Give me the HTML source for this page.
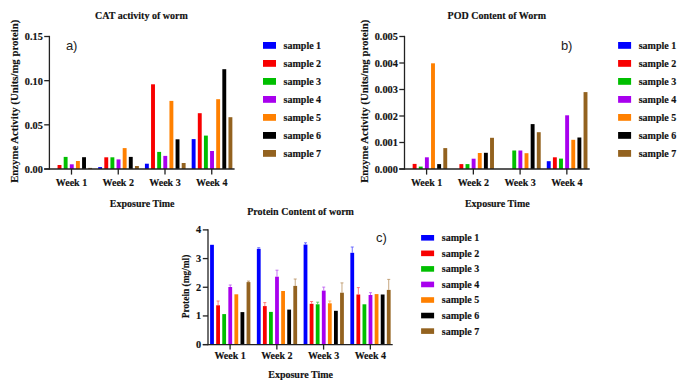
<!DOCTYPE html>
<html><head><meta charset="utf-8"><style>
html,body{margin:0;padding:0;background:#fff;}
body{width:685px;height:388px;overflow:hidden;}
svg{display:block;}
.ser{font-family:"Liberation Serif",serif;font-weight:bold;fill:#111;stroke:#111;stroke-width:0.15px;}
.san{font-family:"Liberation Sans",sans-serif;fill:#222;}
</style></head><body>
<svg width="685" height="388" viewBox="0 0 685 388">
<rect width="685" height="388" fill="#fff"/>
<rect x="57.56" y="165.00" width="3.90" height="4.00" fill="#f80000"/>
<rect x="63.69" y="156.90" width="3.90" height="12.10" fill="#00bf00"/>
<rect x="69.82" y="164.30" width="3.90" height="4.70" fill="#a800ee"/>
<rect x="75.95" y="161.00" width="3.90" height="8.00" fill="#ff8000"/>
<rect x="82.08" y="157.20" width="3.90" height="11.80" fill="#000000"/>
<rect x="88.21" y="167.90" width="3.90" height="1.10" fill="#93621f"/>
<rect x="98.18" y="167.10" width="3.90" height="1.90" fill="#0000ff"/>
<rect x="104.31" y="157.30" width="3.90" height="11.70" fill="#f80000"/>
<rect x="110.44" y="157.30" width="3.90" height="11.70" fill="#00bf00"/>
<rect x="116.57" y="159.40" width="3.90" height="9.60" fill="#a800ee"/>
<rect x="122.70" y="148.10" width="3.90" height="20.90" fill="#ff8000"/>
<rect x="128.83" y="156.90" width="3.90" height="12.10" fill="#000000"/>
<rect x="134.96" y="166.00" width="3.90" height="3.00" fill="#93621f"/>
<rect x="144.93" y="163.70" width="3.90" height="5.30" fill="#0000ff"/>
<rect x="151.06" y="84.30" width="3.90" height="84.70" fill="#f80000"/>
<rect x="157.19" y="151.90" width="3.90" height="17.10" fill="#00bf00"/>
<rect x="163.32" y="155.90" width="3.90" height="13.10" fill="#a800ee"/>
<rect x="169.45" y="100.90" width="3.90" height="68.10" fill="#ff8000"/>
<rect x="175.58" y="139.30" width="3.90" height="29.70" fill="#000000"/>
<rect x="181.71" y="163.00" width="3.90" height="6.00" fill="#93621f"/>
<rect x="191.68" y="139.10" width="3.90" height="29.90" fill="#0000ff"/>
<rect x="197.81" y="113.20" width="3.90" height="55.80" fill="#f80000"/>
<rect x="203.94" y="135.60" width="3.90" height="33.40" fill="#00bf00"/>
<rect x="210.07" y="151.00" width="3.90" height="18.00" fill="#a800ee"/>
<rect x="216.20" y="99.20" width="3.90" height="69.80" fill="#ff8000"/>
<rect x="222.33" y="69.20" width="3.90" height="99.80" fill="#000000"/>
<rect x="228.46" y="117.20" width="3.90" height="51.80" fill="#93621f"/>
<line x1="49.40" y1="35.85" x2="49.40" y2="169.65" stroke="#222" stroke-width="1.3"/>
<line x1="44.20" y1="169.00" x2="234.60" y2="169.00" stroke="#222" stroke-width="1.3"/>
<line x1="44.20" y1="169.00" x2="49.40" y2="169.00" stroke="#222" stroke-width="1.3"/>
<text class="ser" x="42.80" y="172.90" font-size="10.3" text-anchor="end" >0.00</text>
<line x1="44.20" y1="124.83" x2="49.40" y2="124.83" stroke="#222" stroke-width="1.3"/>
<text class="ser" x="42.80" y="128.73" font-size="10.3" text-anchor="end" >0.05</text>
<line x1="44.20" y1="80.67" x2="49.40" y2="80.67" stroke="#222" stroke-width="1.3"/>
<text class="ser" x="42.80" y="84.57" font-size="10.3" text-anchor="end" >0.10</text>
<line x1="44.20" y1="36.50" x2="49.40" y2="36.50" stroke="#222" stroke-width="1.3"/>
<text class="ser" x="42.80" y="40.40" font-size="10.3" text-anchor="end" >0.15</text>
<line x1="71.50" y1="169.00" x2="71.50" y2="174.60" stroke="#222" stroke-width="1.3"/>
<text class="ser" x="71.50" y="186.00" font-size="10" text-anchor="middle" >Week 1</text>
<line x1="118.25" y1="169.00" x2="118.25" y2="174.60" stroke="#222" stroke-width="1.3"/>
<text class="ser" x="118.25" y="186.00" font-size="10" text-anchor="middle" >Week 2</text>
<line x1="165.00" y1="169.00" x2="165.00" y2="174.60" stroke="#222" stroke-width="1.3"/>
<text class="ser" x="165.00" y="186.00" font-size="10" text-anchor="middle" >Week 3</text>
<line x1="211.75" y1="169.00" x2="211.75" y2="174.60" stroke="#222" stroke-width="1.3"/>
<text class="ser" x="211.75" y="186.00" font-size="10" text-anchor="middle" >Week 4</text>
<text class="ser" x="142.20" y="207.20" font-size="10" text-anchor="middle" >Exposure Time</text>
<text class="ser" x="95.10" y="18.80" font-size="10" text-anchor="start" >CAT activity of worm</text>
<text class="ser" font-size="10.75" text-anchor="middle" transform="translate(17.60,101.30) rotate(-90)">Enzyme Activity (Units/mg protein)</text>
<text class="san" x="65.90" y="50.00" font-size="13" text-anchor="start" >a)</text>
<rect x="263.00" y="42.00" width="13.00" height="6.80" fill="#0000ff"/>
<text class="ser" x="283.60" y="49.00" font-size="10" text-anchor="start" >sample 1</text>
<rect x="263.00" y="60.00" width="13.00" height="6.80" fill="#f80000"/>
<text class="ser" x="283.60" y="67.00" font-size="10" text-anchor="start" >sample 2</text>
<rect x="263.00" y="78.00" width="13.00" height="6.80" fill="#00bf00"/>
<text class="ser" x="283.60" y="85.00" font-size="10" text-anchor="start" >sample 3</text>
<rect x="263.00" y="96.00" width="13.00" height="6.80" fill="#a800ee"/>
<text class="ser" x="283.60" y="103.00" font-size="10" text-anchor="start" >sample 4</text>
<rect x="263.00" y="114.00" width="13.00" height="6.80" fill="#ff8000"/>
<text class="ser" x="283.60" y="121.00" font-size="10" text-anchor="start" >sample 5</text>
<rect x="263.00" y="132.00" width="13.00" height="6.80" fill="#000000"/>
<text class="ser" x="283.60" y="139.00" font-size="10" text-anchor="start" >sample 6</text>
<rect x="263.00" y="150.00" width="13.00" height="6.80" fill="#93621f"/>
<text class="ser" x="283.60" y="157.00" font-size="10" text-anchor="start" >sample 7</text>
<rect x="412.66" y="163.90" width="3.90" height="5.10" fill="#f80000"/>
<rect x="418.79" y="166.60" width="3.90" height="2.40" fill="#00bf00"/>
<rect x="424.92" y="157.30" width="3.90" height="11.70" fill="#a800ee"/>
<rect x="431.05" y="63.30" width="3.90" height="105.70" fill="#ff8000"/>
<rect x="437.18" y="164.10" width="3.90" height="4.90" fill="#000000"/>
<rect x="443.31" y="148.10" width="3.90" height="20.90" fill="#93621f"/>
<rect x="459.41" y="164.10" width="3.90" height="4.90" fill="#f80000"/>
<rect x="465.54" y="164.10" width="3.90" height="4.90" fill="#00bf00"/>
<rect x="471.67" y="158.70" width="3.90" height="10.30" fill="#a800ee"/>
<rect x="477.80" y="153.00" width="3.90" height="16.00" fill="#ff8000"/>
<rect x="483.93" y="152.80" width="3.90" height="16.20" fill="#000000"/>
<rect x="490.06" y="137.80" width="3.90" height="31.20" fill="#93621f"/>
<rect x="512.29" y="150.50" width="3.90" height="18.50" fill="#00bf00"/>
<rect x="518.42" y="150.50" width="3.90" height="18.50" fill="#a800ee"/>
<rect x="524.55" y="153.20" width="3.90" height="15.80" fill="#ff8000"/>
<rect x="530.68" y="124.10" width="3.90" height="44.90" fill="#000000"/>
<rect x="536.81" y="132.20" width="3.90" height="36.80" fill="#93621f"/>
<rect x="546.78" y="161.20" width="3.90" height="7.80" fill="#0000ff"/>
<rect x="552.91" y="157.30" width="3.90" height="11.70" fill="#f80000"/>
<rect x="559.04" y="158.60" width="3.90" height="10.40" fill="#00bf00"/>
<rect x="565.17" y="115.30" width="3.90" height="53.70" fill="#a800ee"/>
<rect x="571.30" y="139.80" width="3.90" height="29.20" fill="#ff8000"/>
<rect x="577.43" y="137.50" width="3.90" height="31.50" fill="#000000"/>
<rect x="583.56" y="92.10" width="3.90" height="76.90" fill="#93621f"/>
<line x1="404.50" y1="35.85" x2="404.50" y2="169.65" stroke="#222" stroke-width="1.3"/>
<line x1="399.30" y1="169.00" x2="589.70" y2="169.00" stroke="#222" stroke-width="1.3"/>
<line x1="399.30" y1="169.00" x2="404.50" y2="169.00" stroke="#222" stroke-width="1.3"/>
<text class="ser" x="397.90" y="172.90" font-size="10.3" text-anchor="end" >0.000</text>
<line x1="399.30" y1="142.50" x2="404.50" y2="142.50" stroke="#222" stroke-width="1.3"/>
<text class="ser" x="397.90" y="146.40" font-size="10.3" text-anchor="end" >0.001</text>
<line x1="399.30" y1="116.00" x2="404.50" y2="116.00" stroke="#222" stroke-width="1.3"/>
<text class="ser" x="397.90" y="119.90" font-size="10.3" text-anchor="end" >0.002</text>
<line x1="399.30" y1="89.50" x2="404.50" y2="89.50" stroke="#222" stroke-width="1.3"/>
<text class="ser" x="397.90" y="93.40" font-size="10.3" text-anchor="end" >0.003</text>
<line x1="399.30" y1="63.00" x2="404.50" y2="63.00" stroke="#222" stroke-width="1.3"/>
<text class="ser" x="397.90" y="66.90" font-size="10.3" text-anchor="end" >0.004</text>
<line x1="399.30" y1="36.50" x2="404.50" y2="36.50" stroke="#222" stroke-width="1.3"/>
<text class="ser" x="397.90" y="40.40" font-size="10.3" text-anchor="end" >0.005</text>
<line x1="426.60" y1="169.00" x2="426.60" y2="174.60" stroke="#222" stroke-width="1.3"/>
<text class="ser" x="426.60" y="186.00" font-size="10" text-anchor="middle" >Week 1</text>
<line x1="473.35" y1="169.00" x2="473.35" y2="174.60" stroke="#222" stroke-width="1.3"/>
<text class="ser" x="473.35" y="186.00" font-size="10" text-anchor="middle" >Week 2</text>
<line x1="520.10" y1="169.00" x2="520.10" y2="174.60" stroke="#222" stroke-width="1.3"/>
<text class="ser" x="520.10" y="186.00" font-size="10" text-anchor="middle" >Week 3</text>
<line x1="566.85" y1="169.00" x2="566.85" y2="174.60" stroke="#222" stroke-width="1.3"/>
<text class="ser" x="566.85" y="186.00" font-size="10" text-anchor="middle" >Week 4</text>
<text class="ser" x="497.30" y="207.20" font-size="10" text-anchor="middle" >Exposure Time</text>
<text class="ser" x="447.60" y="18.80" font-size="10" text-anchor="start" >POD Content of Worm</text>
<text class="ser" font-size="10.75" text-anchor="middle" transform="translate(367.60,101.30) rotate(-90)">Enzyme Activity (Units/mg protein)</text>
<text class="san" x="560.90" y="50.00" font-size="13" text-anchor="start" >b)</text>
<rect x="618.10" y="42.00" width="13.00" height="6.80" fill="#0000ff"/>
<text class="ser" x="638.70" y="49.00" font-size="10" text-anchor="start" >sample 1</text>
<rect x="618.10" y="60.00" width="13.00" height="6.80" fill="#f80000"/>
<text class="ser" x="638.70" y="67.00" font-size="10" text-anchor="start" >sample 2</text>
<rect x="618.10" y="78.00" width="13.00" height="6.80" fill="#00bf00"/>
<text class="ser" x="638.70" y="85.00" font-size="10" text-anchor="start" >sample 3</text>
<rect x="618.10" y="96.00" width="13.00" height="6.80" fill="#a800ee"/>
<text class="ser" x="638.70" y="103.00" font-size="10" text-anchor="start" >sample 4</text>
<rect x="618.10" y="114.00" width="13.00" height="6.80" fill="#ff8000"/>
<text class="ser" x="638.70" y="121.00" font-size="10" text-anchor="start" >sample 5</text>
<rect x="618.10" y="132.00" width="13.00" height="6.80" fill="#000000"/>
<text class="ser" x="638.70" y="139.00" font-size="10" text-anchor="start" >sample 6</text>
<rect x="618.10" y="150.00" width="13.00" height="6.80" fill="#93621f"/>
<text class="ser" x="638.70" y="157.00" font-size="10" text-anchor="start" >sample 7</text>
<rect x="210.10" y="244.80" width="3.80" height="99.80" fill="#0000ff"/>
<rect x="216.18" y="305.30" width="3.80" height="39.30" fill="#f80000"/>
<line x1="218.08" y1="305.30" x2="218.08" y2="301.00" stroke="#ff6060" stroke-width="0.8"/>
<line x1="216.58" y1="301.00" x2="219.58" y2="301.00" stroke="#ff6060" stroke-width="0.8"/>
<rect x="222.26" y="314.10" width="3.80" height="30.50" fill="#00bf00"/>
<rect x="228.34" y="287.00" width="3.80" height="57.60" fill="#a800ee"/>
<line x1="230.24" y1="287.00" x2="230.24" y2="285.00" stroke="#b850f0" stroke-width="0.8"/>
<line x1="228.74" y1="285.00" x2="231.74" y2="285.00" stroke="#b850f0" stroke-width="0.8"/>
<rect x="234.42" y="294.30" width="3.80" height="50.30" fill="#ff8000"/>
<rect x="240.50" y="312.10" width="3.80" height="32.50" fill="#000000"/>
<rect x="246.58" y="282.10" width="3.80" height="62.50" fill="#93621f"/>
<line x1="248.48" y1="282.10" x2="248.48" y2="281.10" stroke="#b89060" stroke-width="0.8"/>
<line x1="246.98" y1="281.10" x2="249.98" y2="281.10" stroke="#b89060" stroke-width="0.8"/>
<rect x="256.85" y="248.80" width="3.80" height="95.80" fill="#0000ff"/>
<line x1="258.75" y1="248.80" x2="258.75" y2="247.70" stroke="#5050ff" stroke-width="0.8"/>
<line x1="257.25" y1="247.70" x2="260.25" y2="247.70" stroke="#5050ff" stroke-width="0.8"/>
<rect x="262.93" y="306.10" width="3.80" height="38.50" fill="#f80000"/>
<line x1="264.83" y1="306.10" x2="264.83" y2="302.60" stroke="#ff6060" stroke-width="0.8"/>
<line x1="263.33" y1="302.60" x2="266.33" y2="302.60" stroke="#ff6060" stroke-width="0.8"/>
<rect x="269.01" y="311.90" width="3.80" height="32.70" fill="#00bf00"/>
<rect x="275.09" y="276.70" width="3.80" height="67.90" fill="#a800ee"/>
<line x1="276.99" y1="276.70" x2="276.99" y2="270.20" stroke="#b850f0" stroke-width="0.8"/>
<line x1="275.49" y1="270.20" x2="278.49" y2="270.20" stroke="#b850f0" stroke-width="0.8"/>
<rect x="281.17" y="291.00" width="3.80" height="53.60" fill="#ff8000"/>
<rect x="287.25" y="309.60" width="3.80" height="35.00" fill="#000000"/>
<rect x="293.33" y="285.90" width="3.80" height="58.70" fill="#93621f"/>
<line x1="295.23" y1="285.90" x2="295.23" y2="279.00" stroke="#b89060" stroke-width="0.8"/>
<line x1="293.73" y1="279.00" x2="296.73" y2="279.00" stroke="#b89060" stroke-width="0.8"/>
<rect x="303.60" y="244.60" width="3.80" height="100.00" fill="#0000ff"/>
<line x1="305.50" y1="244.60" x2="305.50" y2="242.80" stroke="#5050ff" stroke-width="0.8"/>
<line x1="304.00" y1="242.80" x2="307.00" y2="242.80" stroke="#5050ff" stroke-width="0.8"/>
<rect x="309.68" y="303.80" width="3.80" height="40.80" fill="#f80000"/>
<line x1="311.58" y1="303.80" x2="311.58" y2="301.50" stroke="#ff6060" stroke-width="0.8"/>
<line x1="310.08" y1="301.50" x2="313.08" y2="301.50" stroke="#ff6060" stroke-width="0.8"/>
<rect x="315.76" y="304.30" width="3.80" height="40.30" fill="#00bf00"/>
<line x1="317.66" y1="304.30" x2="317.66" y2="302.20" stroke="#40c840" stroke-width="0.8"/>
<line x1="316.16" y1="302.20" x2="319.16" y2="302.20" stroke="#40c840" stroke-width="0.8"/>
<rect x="321.84" y="290.60" width="3.80" height="54.00" fill="#a800ee"/>
<line x1="323.74" y1="290.60" x2="323.74" y2="287.10" stroke="#b850f0" stroke-width="0.8"/>
<line x1="322.24" y1="287.10" x2="325.24" y2="287.10" stroke="#b850f0" stroke-width="0.8"/>
<rect x="327.92" y="303.30" width="3.80" height="41.30" fill="#ff8000"/>
<line x1="329.82" y1="303.30" x2="329.82" y2="301.00" stroke="#ffa850" stroke-width="0.8"/>
<line x1="328.32" y1="301.00" x2="331.32" y2="301.00" stroke="#ffa850" stroke-width="0.8"/>
<rect x="334.00" y="310.80" width="3.80" height="33.80" fill="#000000"/>
<rect x="340.08" y="292.70" width="3.80" height="51.90" fill="#93621f"/>
<line x1="341.98" y1="292.70" x2="341.98" y2="282.90" stroke="#b89060" stroke-width="0.8"/>
<line x1="340.48" y1="282.90" x2="343.48" y2="282.90" stroke="#b89060" stroke-width="0.8"/>
<rect x="350.35" y="252.80" width="3.80" height="91.80" fill="#0000ff"/>
<line x1="352.25" y1="252.80" x2="352.25" y2="247.00" stroke="#5050ff" stroke-width="0.8"/>
<line x1="350.75" y1="247.00" x2="353.75" y2="247.00" stroke="#5050ff" stroke-width="0.8"/>
<rect x="356.43" y="294.50" width="3.80" height="50.10" fill="#f80000"/>
<line x1="358.33" y1="294.50" x2="358.33" y2="287.60" stroke="#ff6060" stroke-width="0.8"/>
<line x1="356.83" y1="287.60" x2="359.83" y2="287.60" stroke="#ff6060" stroke-width="0.8"/>
<rect x="362.51" y="304.30" width="3.80" height="40.30" fill="#00bf00"/>
<rect x="368.59" y="295.00" width="3.80" height="49.60" fill="#a800ee"/>
<line x1="370.49" y1="295.00" x2="370.49" y2="292.70" stroke="#b850f0" stroke-width="0.8"/>
<line x1="368.99" y1="292.70" x2="371.99" y2="292.70" stroke="#b850f0" stroke-width="0.8"/>
<rect x="374.67" y="294.10" width="3.80" height="50.50" fill="#ff8000"/>
<rect x="380.75" y="294.50" width="3.80" height="50.10" fill="#000000"/>
<rect x="386.83" y="289.90" width="3.80" height="54.70" fill="#93621f"/>
<line x1="388.73" y1="289.90" x2="388.73" y2="279.40" stroke="#b89060" stroke-width="0.8"/>
<line x1="387.23" y1="279.40" x2="390.23" y2="279.40" stroke="#b89060" stroke-width="0.8"/>
<line x1="208.00" y1="229.25" x2="208.00" y2="345.25" stroke="#222" stroke-width="1.3"/>
<line x1="202.80" y1="344.60" x2="392.70" y2="344.60" stroke="#222" stroke-width="1.3"/>
<line x1="202.80" y1="344.60" x2="208.00" y2="344.60" stroke="#222" stroke-width="1.3"/>
<text class="ser" x="201.10" y="347.90" font-size="10.3" text-anchor="end" >0</text>
<line x1="202.80" y1="315.93" x2="208.00" y2="315.93" stroke="#222" stroke-width="1.3"/>
<text class="ser" x="201.10" y="319.23" font-size="10.3" text-anchor="end" >1</text>
<line x1="202.80" y1="287.25" x2="208.00" y2="287.25" stroke="#222" stroke-width="1.3"/>
<text class="ser" x="201.10" y="290.55" font-size="10.3" text-anchor="end" >2</text>
<line x1="202.80" y1="258.58" x2="208.00" y2="258.58" stroke="#222" stroke-width="1.3"/>
<text class="ser" x="201.10" y="261.88" font-size="10.3" text-anchor="end" >3</text>
<line x1="202.80" y1="229.90" x2="208.00" y2="229.90" stroke="#222" stroke-width="1.3"/>
<text class="ser" x="201.10" y="233.20" font-size="10.3" text-anchor="end" >4</text>
<line x1="230.10" y1="344.60" x2="230.10" y2="349.60" stroke="#222" stroke-width="1.3"/>
<text class="ser" x="230.10" y="359.30" font-size="10" text-anchor="middle" >Week 1</text>
<line x1="276.85" y1="344.60" x2="276.85" y2="349.60" stroke="#222" stroke-width="1.3"/>
<text class="ser" x="276.85" y="359.30" font-size="10" text-anchor="middle" >Week 2</text>
<line x1="323.60" y1="344.60" x2="323.60" y2="349.60" stroke="#222" stroke-width="1.3"/>
<text class="ser" x="323.60" y="359.30" font-size="10" text-anchor="middle" >Week 3</text>
<line x1="370.35" y1="344.60" x2="370.35" y2="349.60" stroke="#222" stroke-width="1.3"/>
<text class="ser" x="370.35" y="359.30" font-size="10" text-anchor="middle" >Week 4</text>
<text class="ser" x="300.60" y="377.70" font-size="10" text-anchor="middle" >Exposure Time</text>
<text class="ser" x="247.20" y="214.80" font-size="10" text-anchor="start" >Protein Content of worm</text>
<text class="ser" font-size="9.4" text-anchor="middle" transform="translate(188.6,286.5) rotate(-90)">Protein (mg/ml)</text>
<text class="san" x="375.90" y="241.60" font-size="13" text-anchor="start" >c)</text>
<rect x="421.10" y="235.00" width="13.00" height="5.60" fill="#0000ff"/>
<text class="ser" x="441.80" y="241.20" font-size="10" text-anchor="start" >sample 1</text>
<rect x="421.10" y="250.55" width="13.00" height="5.60" fill="#f80000"/>
<text class="ser" x="441.80" y="256.75" font-size="10" text-anchor="start" >sample 2</text>
<rect x="421.10" y="266.10" width="13.00" height="5.60" fill="#00bf00"/>
<text class="ser" x="441.80" y="272.30" font-size="10" text-anchor="start" >sample 3</text>
<rect x="421.10" y="281.65" width="13.00" height="5.60" fill="#a800ee"/>
<text class="ser" x="441.80" y="287.85" font-size="10" text-anchor="start" >sample 4</text>
<rect x="421.10" y="297.20" width="13.00" height="5.60" fill="#ff8000"/>
<text class="ser" x="441.80" y="303.40" font-size="10" text-anchor="start" >sample 5</text>
<rect x="421.10" y="312.75" width="13.00" height="5.60" fill="#000000"/>
<text class="ser" x="441.80" y="318.95" font-size="10" text-anchor="start" >sample 6</text>
<rect x="421.10" y="328.30" width="13.00" height="5.60" fill="#93621f"/>
<text class="ser" x="441.80" y="334.50" font-size="10" text-anchor="start" >sample 7</text>
</svg>
</body></html>
